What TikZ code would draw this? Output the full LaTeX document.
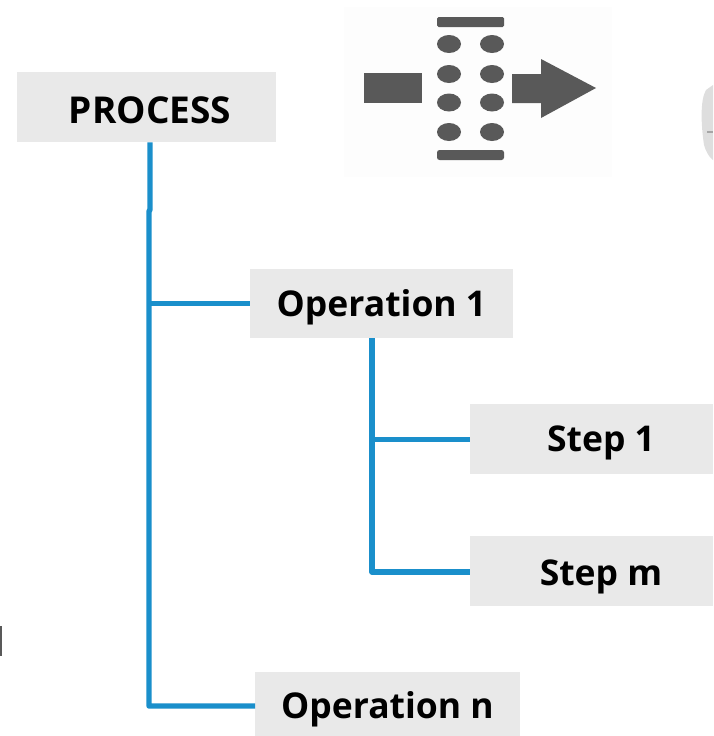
\documentclass[tikz,border=0pt]{standalone}
\usepackage{fontspec}
\setmainfont{Open Sans}
\usetikzlibrary{calc}
\definecolor{boxgray}{HTML}{E9E9E9}
\definecolor{linkblue}{HTML}{1A8FCB}
\definecolor{icongray}{HTML}{595959}
\definecolor{iconbg}{HTML}{FDFDFD}
\tikzset{
  box/.style={fill=boxgray,inner sep=0pt,anchor=north west},
  lbl/.style={inner sep=0pt,font=\fontsize{35.5}{40}\selectfont\bfseries,text=black},
  link/.style={draw=linkblue,line width=5.4pt,line join=round},
  icon/.style={fill=icongray,draw=none},
}
\begin{document}
\begin{tikzpicture}[x=1pt,y=-1pt]
\useasboundingbox (0,0) rectangle (713,736);
% icon
\fill[iconbg] (344,7) rectangle (612,177);
\fill[icon,rounded corners=1.5pt] (437,17) rectangle (504,27);
\fill[icon,rounded corners=2.5pt] (437,150) rectangle (504,160);
\foreach \x in {449,492}{\foreach \y in {44,74,102.5,132}{
  \fill[icon] (\x,\y) ellipse (12 and 9);}}
\fill[icon] (364,73) rectangle (422,103);
\fill[icon] (512,74) -- (541,74) -- (541,59) -- (596,88) -- (541,118) -- (541,103) -- (512,103) -- cycle;
% edge fragments
\fill[black!13] (713,85) -- (706,90) .. controls (700,100) and (701,125) .. (704,145) .. controls (706,152) and (709,157) .. (713,160) -- cycle;
\fill[black!35] (707,131) rectangle (713,133);
\fill[icongray] (0,626) rectangle (2,656);
% nodes
\node[box,minimum width=259pt,minimum height=70pt] (process) at (17,72) {};
\node[box,minimum width=263pt,minimum height=69pt] (op1) at (250,269) {};
\node[box,minimum width=243pt,minimum height=70pt] (step1) at (470,404) {};
\node[box,minimum width=243pt,minimum height=70pt] (stepm) at (470,536) {};
\node[box,minimum width=265pt,minimum height=64pt] (opn) at (255,672) {};
\node[lbl,font=\fontsize{37}{40}\selectfont\bfseries] (tprocess) at (150,110.5) {PROCESS};
\node[lbl] (top1) at (381.5,307.5) {Operation 1};
\node[lbl] (tstep1) at (601,442.5) {Step 1};
\node[lbl] (tstepm) at (601,576.5) {Step m};
\node[lbl] (topn) at (387.5,709) {Operation n};
% connectors
\coordinate (bendA) at (150,210);
\coordinate (bendB) at (149,211);
\coordinate (corner) at (149,706);
\coordinate (corner2) at (372,572);
\draw[link] (process.south -| bendA) -- (bendA) -- (bendB) -- (corner) -- (corner -| opn.west);
\draw[link] (bendB |- op1.west) -- (op1.west);
\draw[link] (op1.south -| corner2) -- (corner2) -- (corner2 -| stepm.west);
\draw[link] (corner2 |- step1.west) -- (step1.west);
\end{tikzpicture}
\end{document}
